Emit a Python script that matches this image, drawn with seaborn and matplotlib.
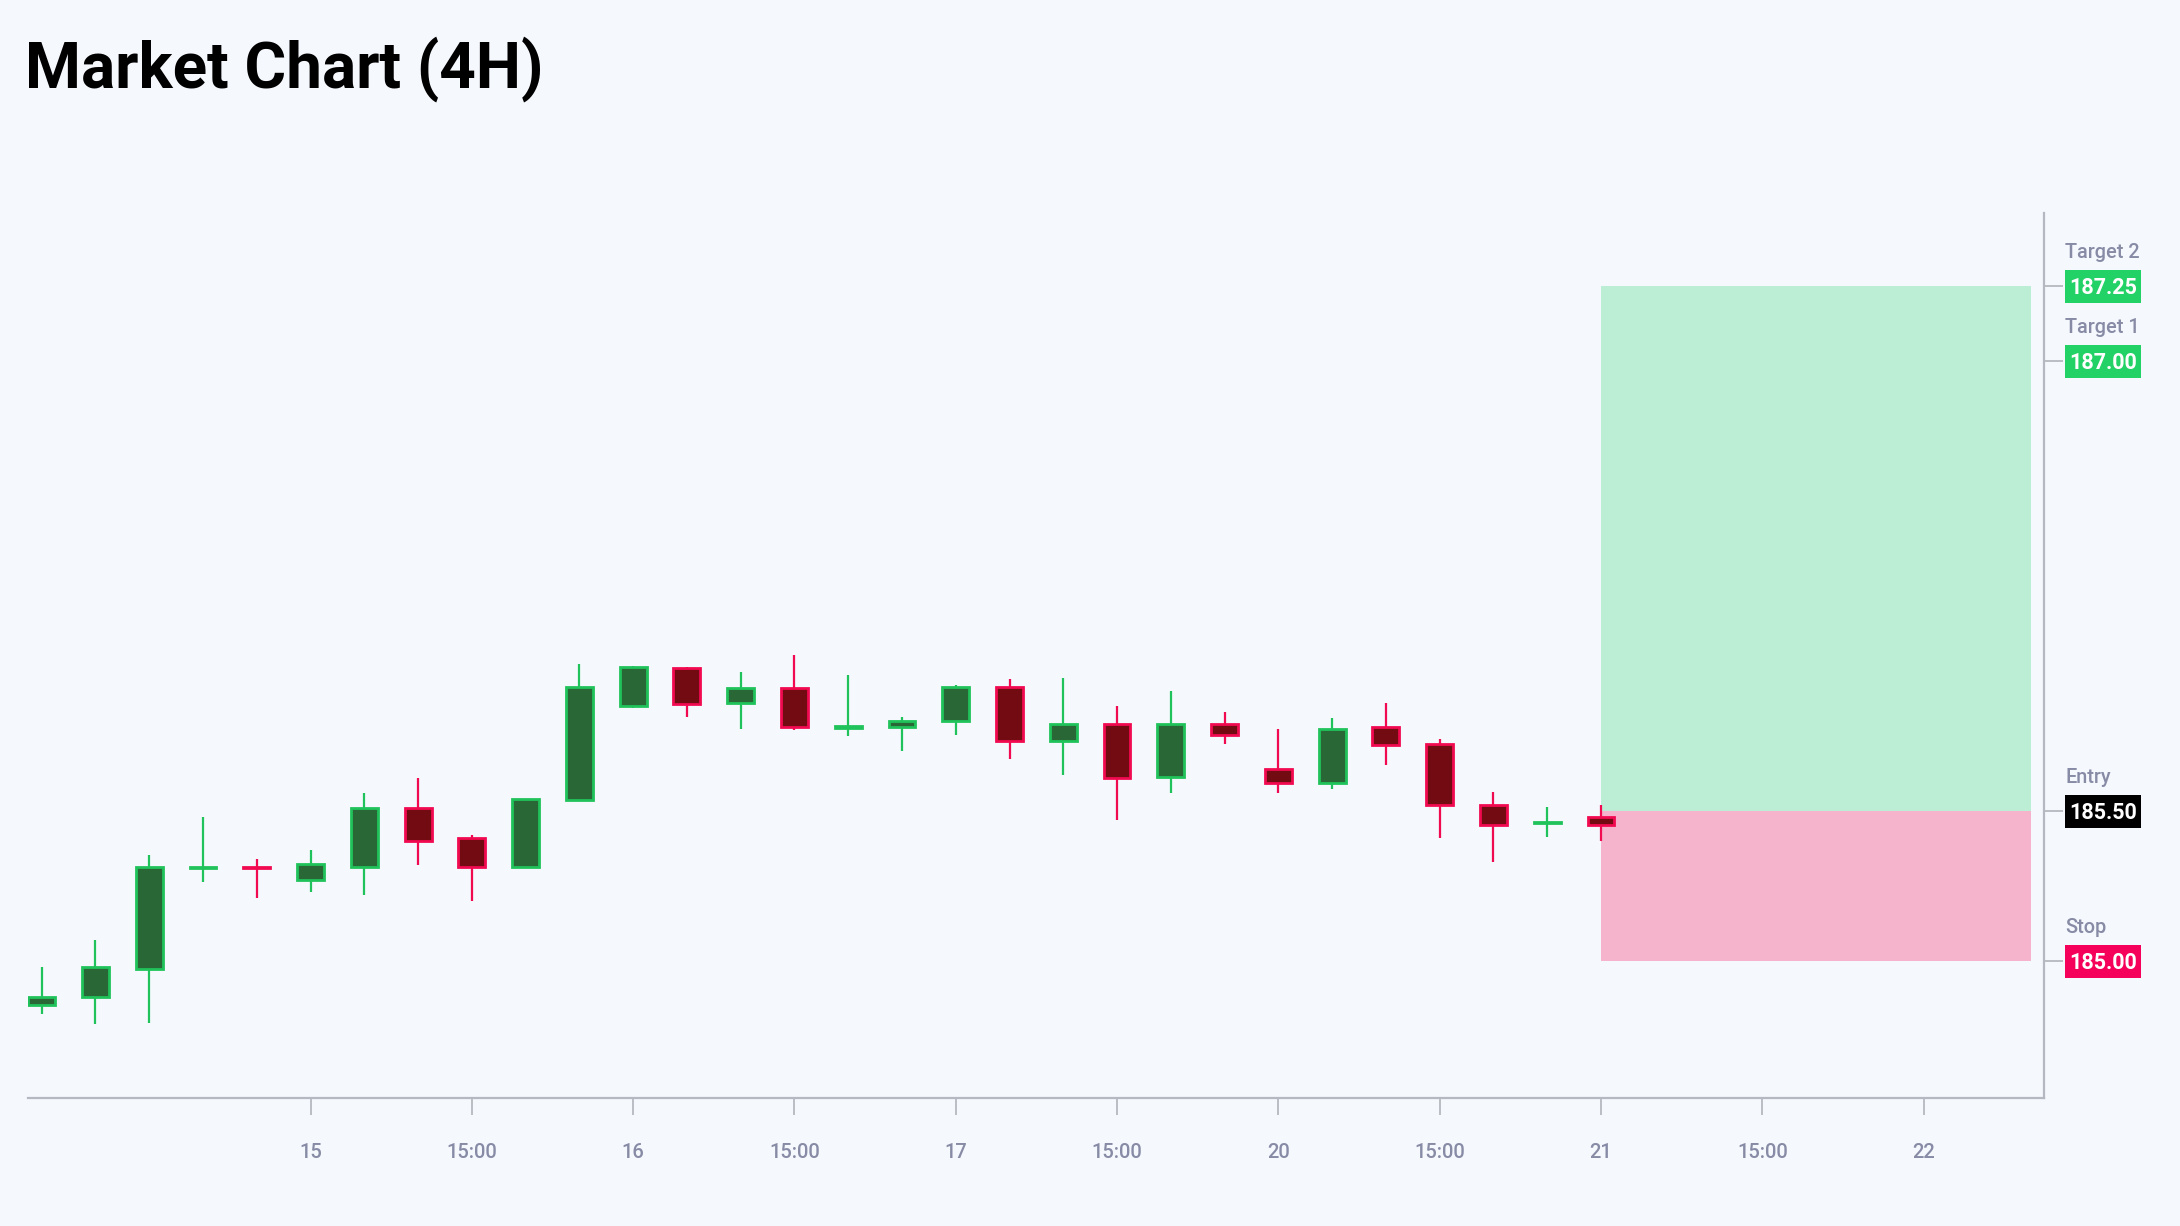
import numpy as np
import pandas as pd
import seaborn as sns
import matplotlib.pyplot as plt
from matplotlib.patches import Rectangle
import matplotlib.transforms as mtransforms

# 4H candles
opens  = [184.855, 184.88, 184.975, 185.31, 185.315, 185.27, 185.315, 185.51, 185.41, 185.315,
          185.537, 185.85, 185.978, 185.86, 185.91, 185.777, 185.782, 185.80, 185.915, 185.735,
          185.79, 185.615, 185.79, 185.64, 185.595, 185.78, 185.725, 185.52, 185.46, 185.48]
highs  = [184.98, 185.07, 185.355, 185.48, 185.34, 185.37, 185.56, 185.61, 185.42, 185.54,
          185.99, 185.985, 185.98, 185.965, 186.02, 185.955, 185.815, 185.92, 185.94, 185.945,
          185.85, 185.90, 185.83, 185.775, 185.81, 185.86, 185.74, 185.565, 185.515, 185.52]
lows   = [184.825, 184.79, 184.795, 185.265, 185.21, 185.23, 185.22, 185.32, 185.20, 185.31,
          185.535, 185.845, 185.815, 185.775, 185.77, 185.75, 185.70, 185.755, 185.675, 185.62,
          185.47, 185.56, 185.725, 185.56, 185.575, 185.655, 185.41, 185.33, 185.415, 185.40]
closes = [184.88, 184.98, 185.315, 185.315, 185.31, 185.325, 185.51, 185.40, 185.315, 185.54,
          185.915, 185.98, 185.857, 185.91, 185.78, 185.785, 185.80, 185.915, 185.735, 185.79,
          185.61, 185.79, 185.755, 185.595, 185.775, 185.72, 185.52, 185.455, 185.465, 185.455]

tick_pos = [5, 8, 11, 14, 17, 20, 23, 26, 29, 32, 35]
tick_labels = ["15", "15:00", "16", "15:00", "17", "15:00", "20", "15:00", "21", "15:00", "22"]

entry = 185.50
stop = 185.00
target1 = 187.00
target2 = 187.25
trade_start = 29
trade_end = 37

levels = [("Target 2", target2, "#22d266"),
          ("Target 1", target1, "#22d266"),
          ("Entry", entry, "#000000"),
          ("Stop", stop, "#f5005a")]

df = pd.DataFrame({"open": opens, "high": highs, "low": lows, "close": closes})
df["x"] = np.arange(len(df))
df["up"] = df["close"] >= df["open"]

bg = "#f5f8fd"
sns.set_theme(style="white")
plt.rcParams["font.family"] = ["Roboto", "DejaVu Sans"]

fig = plt.figure(figsize=(21.8, 12.26), dpi=100, facecolor=bg)
ax = fig.add_axes([28 / 2180, 128 / 1226, 2016 / 2180, 885 / 1226])
ax.set_facecolor(bg)

# trade zones
ax.add_patch(Rectangle((trade_start, entry), trade_end - trade_start, target2 - entry,
                       facecolor="#bbeed5", edgecolor="none", zorder=1))
ax.add_patch(Rectangle((trade_start, stop), trade_end - trade_start, entry - stop,
                       facecolor="#f5b4cc", edgecolor="none", zorder=1))

up_edge, up_body = "#20c35b", "#2a6736"
dn_edge, dn_body = "#f20a50", "#720b12"
for up, edge, body in [(True, up_edge, up_body), (False, dn_edge, dn_body)]:
    d = df[df["up"] == up]
    ax.vlines(d["x"], d["low"], d["high"], color=edge, linewidth=1.6, zorder=2)
    lo = d[["open", "close"]].min(axis=1)
    hi = d[["open", "close"]].max(axis=1)
    ax.bar(d["x"], hi - lo, bottom=lo, width=0.5, color=body, edgecolor=edge,
           linewidth=2.0, zorder=3)

ax.set_xlim(-0.255, 37.24)
ax.set_ylim(184.545, 187.495)

sns.despine(ax=ax, left=True, top=True, right=False, bottom=False)
for s in ["right", "bottom"]:
    ax.spines[s].set_color("#b5b8c0")
    ax.spines[s].set_linewidth(1.6)

ax.set_xticks(tick_pos)
ax.set_xticklabels(tick_labels)
ax.tick_params(axis="x", bottom=True, length=12, width=1.3, color="#b5b8c0",
               labelsize=14.5, labelcolor="#878ba5", pad=20.5)
ax.yaxis.tick_right()
ax.set_yticks([v for _, v, _ in levels])
ax.set_yticklabels([])
ax.tick_params(axis="y", right=True, length=14, width=1.3, color="#b5b8c0")
for lab in ax.get_xticklabels():
    lab.set_fontweight("medium")

# price tags on the right
trans = mtransforms.blended_transform_factory(ax.transAxes, ax.transData)
bx0 = (2065 - 28) / 2016
bw = 76 / 2016
bh = 33 / 300
for name, val, col in levels:
    ax.add_patch(Rectangle((bx0, val - bh / 2), bw, bh, transform=trans,
                           facecolor=col, edgecolor="none", clip_on=False))
    ax.text(bx0 + bw / 2, val - 0.004, f"{val:.2f}", transform=trans, ha="center", va="center",
            color="white", fontsize=15.5, fontweight="bold")
    ax.text(bx0, val + 0.112, name, transform=trans, ha="left", va="center",
            color="#878ba5", fontsize=14.3, fontweight="medium")

fig.text(25 / 2180, 1 - 88 / 1226, "Market Chart (4H)", fontsize=46, fontweight="bold",
         color="black", va="baseline", ha="left")

fig.savefig("out.png", dpi=100, facecolor=bg)
